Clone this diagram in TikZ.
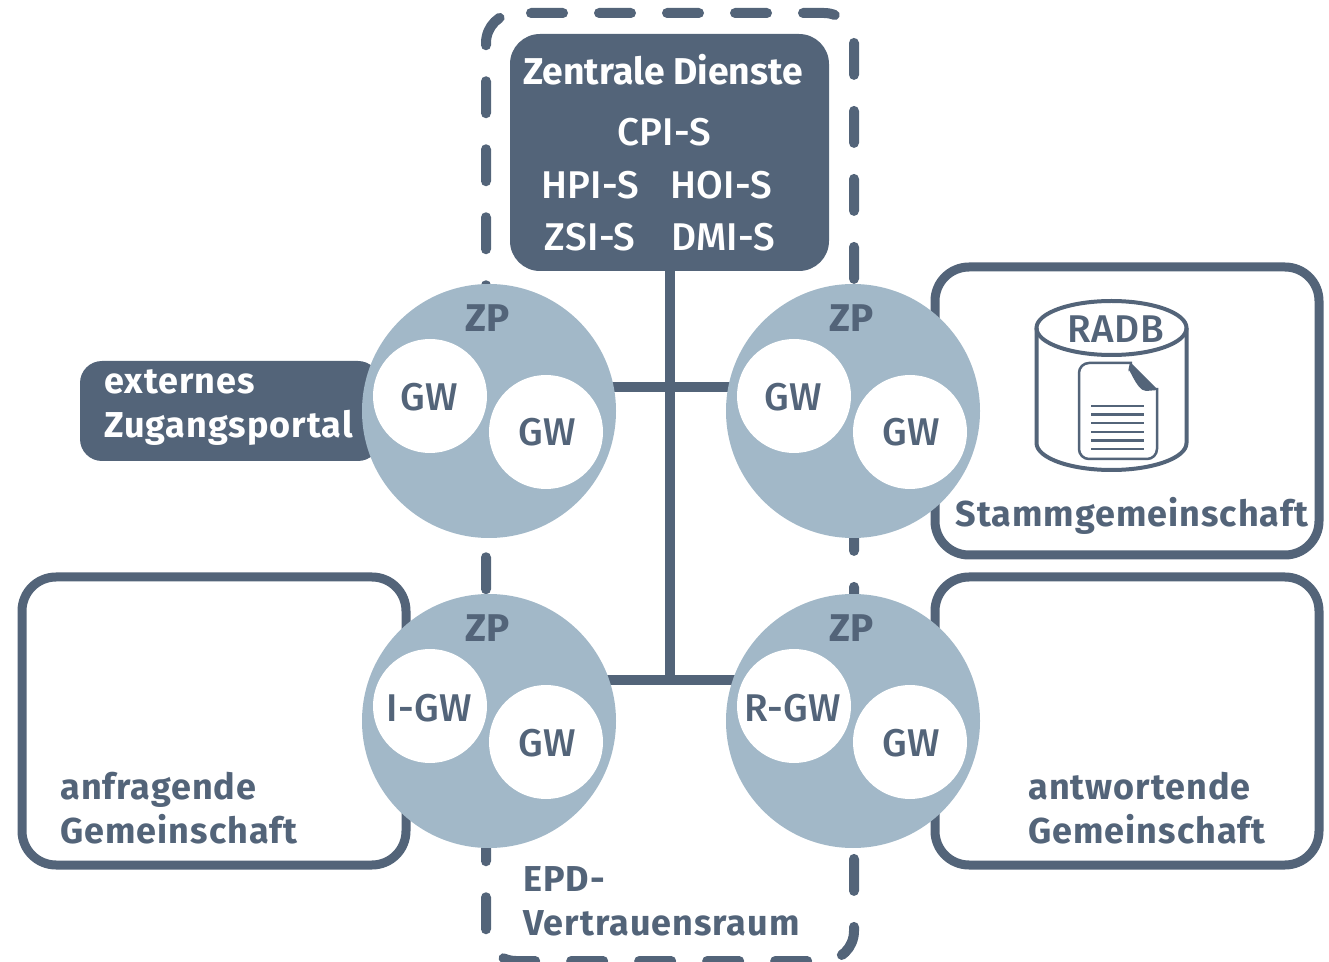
\documentclass[tikz,border=0pt]{standalone}
\usepackage{fontspec}
\setmainfont{Fira Sans}
\newfontfamily\medfont[LetterSpace=1.0]{Fira Sans Medium}
\newfontfamily\boldfont[LetterSpace=2.8]{Fira Sans Bold}
\usetikzlibrary{shapes,positioning,backgrounds}
\definecolor{epdblue}{HTML}{536479}
\definecolor{zpblue}{HTML}{A2B8C8}
\def\px{0.75pt}

\begin{document}
\begin{tikzpicture}[
        x=0.75pt, y=-0.75pt,
        frame/.style={draw=epdblue, line width=10*\px, line cap=round, rounded corners=30*\px, dash pattern=on 32*\px off 36*\px},
        link/.style={draw=epdblue, line width=10*\px},
        dark/.style={rectangle, fill=epdblue, rounded corners=30*\px},
        comm/.style={rectangle, draw=epdblue, fill=white, line width=9*\px, rounded corners=34*\px, minimum width=384*\px, minimum height=288*\px},
        zp/.style={circle, fill=zpblue, minimum size=254*\px, inner sep=0pt},
        gw/.style={circle, fill=white, minimum size=114*\px, inner sep=0pt},
        bold/.style={font=\fontsize{27}{33}\selectfont\boldfont, text=epdblue, align=left, inner sep=0pt},
        plain/.style={font=\fontsize{29}{33}\selectfont\medfont, text=epdblue, inner sep=0pt, anchor=base},
        inv/.style={font=\fontsize{29}{33}\selectfont\medfont, text=white, inner sep=0pt, anchor=base},
        zptext/.style={plain, font=\fontsize{29}{33}\selectfont\bfseries}
    ]
    \useasboundingbox (0,0) rectangle (1329,962);

    % Trust space, dashed
    \draw[frame] (531,13) -- (854,13) -- (854,961) -- (486,961) -- (486,13) -- (531,13);

    % Communities
    \node[comm] (stamm) at (1127,411) {};
    \node[comm] (anfrage) at (214,721) {};
    \node[comm] (antwort) at (1127,721) {};

    % Central services
    \node[dark, minimum width=319*\px, minimum height=237*\px] (dienste) at (669.5,152.5) {};
    \node[dark, minimum width=300*\px, minimum height=100*\px, rounded corners=22*\px] (portal) at (230,411) {};

    % Junctions
    \coordinate (juntop) at (669.5,387);
    \coordinate (junbot) at (669.5,680);

    % Central points
    \node[zp] (zpa) at (489,411) {};
    \node[zp] (zpb) at (853,411) {};
    \node[zp] (zpc) at (489,721) {};
    \node[zp] (zpd) at (853,721) {};

    % Connections behind the circles
    \begin{scope}[on background layer]
        \draw[link] (dienste.south) -- (junbot);
        \draw[link] (zpa |- juntop) -- (zpb |- juntop);
        \draw[link] (zpc |- junbot) -- (zpd |- junbot);
    \end{scope}

    % Gateways
    \node[gw] (gwa) at ([shift={(-59,-15)}]zpa.center) {};
    \node[gw] (gwb) at ([shift={(57,21)}]zpa.center) {};
    \node[gw] (gwc) at ([shift={(-59,-15)}]zpb.center) {};
    \node[gw] (gwd) at ([shift={(57,21)}]zpb.center) {};
    \node[gw] (gwe) at ([shift={(-59,-15)}]zpc.center) {};
    \node[gw] (gwf) at ([shift={(57,21)}]zpc.center) {};
    \node[gw] (gwg) at ([shift={(-59,-15)}]zpd.center) {};
    \node[gw] (gwh) at ([shift={(57,21)}]zpd.center) {};

    \node[plain] (gwatext) at (429,411) {GW};
    \node[plain] (gwbtext) at (547,446) {GW};
    \node[plain] (gwctext) at (793,411) {GW};
    \node[plain] (gwdtext) at (911,446) {GW};
    \node[plain] (gwetext) at (429,721) {I-GW};
    \node[plain] (gwftext) at (547,756) {GW};
    \node[plain] (gwgtext) at (793,721) {R-GW};
    \node[plain] (gwhtext) at (911,756) {GW};

    \node[zptext] (zpatext) at (488,332) {ZP};
    \node[zptext] (zpbtext) at (852,332) {ZP};
    \node[zptext] (zpctext) at (488,641) {ZP};
    \node[zptext] (zpdtext) at (852,641) {ZP};

    % Text in the central box
    \node[inv, font=\fontsize{28}{33}\selectfont\bfseries] (title) at (663,85) {Zentrale Dienste};
    \node[inv] (cpi) at (664,146) {CPI-S};
    \node[inv] (hpi) at (590,199) {HPI-S};
    \node[inv] (hoi) at (721,199) {HOI-S};
    \node[inv] (zsi) at (590,251) {ZSI-S};
    \node[inv] (dmi) at (723,251) {DMI-S};

    % Labels
    \node[bold, text=white, anchor=west] (portaltext) at (104,408) {externes\\Zugangsportal};
    \node[bold, anchor=west] (anfragetext) at (60,808) {anfragende\\Gemeinschaft};
    \node[bold, anchor=west] (antworttext) at (1028,808) {antwortende\\Gemeinschaft};
    \node[bold, anchor=west] (epdtext) at (523,901) {EPD-\\Vertrauensraum};
    \node[bold] (stammtext) at (1132,516) {Stammgemeinschaft};

    % RADB cylinder with document
    \draw[epdblue, line width=4*\px] (1036.5,328) -- (1036.5,443) arc[start angle=180, end angle=360, x radius=75, y radius=-27] -- (1186.5,328);
    \node[ellipse, draw=epdblue, line width=4*\px, minimum width=150*\px, minimum height=54*\px, inner sep=0pt] (radb) at (1111.5,328) {};
    \node[plain, font=\fontsize{29}{33}\selectfont\medfont] (radbtext) at (1116,343) {RADB};
    \draw[epdblue, line width=2.5*\px, rounded corners=10*\px] (1132,363) -- (1079,363) -- (1079,459) -- (1157,459) -- (1157,388);
    \fill[epdblue] (1130,362) -- (1158,390) -- (1146,391) to[out=180, in=90] (1128,372) -- cycle;
    \foreach \ypos in {406,414.5,423,432,440.5,449}
        \draw[epdblue, line width=2.5*\px] (1091,\ypos) -- (1144,\ypos);

\end{tikzpicture}
\end{document}
